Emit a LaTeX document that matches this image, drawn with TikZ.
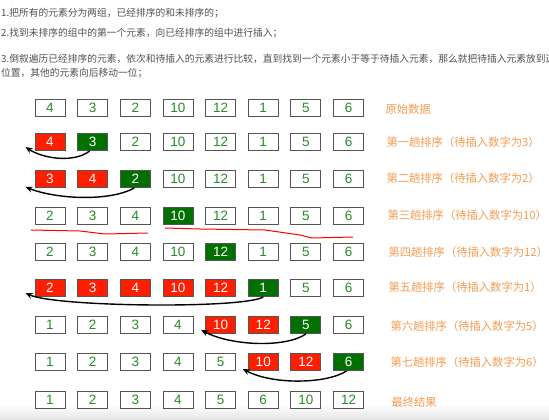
\documentclass[tikz,border=0pt]{standalone}
\usepackage{fontspec}
\setmainfont{Liberation Sans}
\newfontfamily\cjk{Noto Sans CJK SC}
\usepackage{tikz}
\usetikzlibrary{arrows.meta}
\definecolor{numgreen}{RGB}{40,140,40}
\definecolor{boxgreen}{RGB}{0,112,0}
\definecolor{boxred}{RGB}{255,30,0}
\definecolor{boxgray}{RGB}{85,85,85}
\definecolor{labelorange}{RGB}{245,155,80}
\definecolor{notegray}{RGB}{80,80,80}

\tikzset{
    cell/.style={draw=boxgray, line width=0.9pt, minimum width=30pt, minimum height=17pt, inner sep=0pt, font=\fontsize{13.5}{13.5}\selectfont},
    cellw/.style={cell, fill=white, text=numgreen},
    cellr/.style={cell, fill=boxred, text=white},
    cellg/.style={cell, fill=boxgreen, text=white},
    steplabel/.style={anchor=west, text=labelorange, font=\cjk\fontsize{11.3}{12}\selectfont},
    note/.style={anchor=west, text=notegray, inner sep=0pt, font=\cjk\fontsize{9.75}{11}\selectfont},
    movearrow/.style={-{Stealth[length=7pt,width=6pt]}, line width=1.4pt, black},
    scribble/.style={red, line width=1pt, line join=round}
}

\begin{document}
\begin{tikzpicture}[x=1pt, y=-1pt]
\useasboundingbox (0,0) rectangle (549,420);
\clip (0,0) rectangle (549,420);
% faint shade at the bottom edge
\shade[top color=white, bottom color=black!10] (0,404) rectangle (549,420);

% Notes on top
\node[note] (n1) at (1,13) {1.把所有的元素分为两组，已经排序的和未排序的；};
\node[note] (n2) at (1,33) {2.找到未排序的组中的第一个元素，向已经排序的组中进行插入；};
\node[note] (n3) at (1,59) {3.倒叙遍历已经排序的元素，依次和待插入的元素进行比较，直到找到一个元素小于等于待插入元素，那么就把待插入元素放到这};
\node[note] (n4) at (1,73) {位置，其他的元素向后移动一位；};

% Rows of boxes (w = white, r = red, g = green)
\foreach \row/\y/\cells in {
    0/108/{4/w,3/w,2/w,10/w,12/w,1/w,5/w,6/w},
    1/142/{4/r,3/g,2/w,10/w,12/w,1/w,5/w,6/w},
    2/179/{3/r,4/r,2/g,10/w,12/w,1/w,5/w,6/w},
    3/216/{2/w,3/w,4/w,10/g,12/w,1/w,5/w,6/w},
    4/252/{2/w,3/w,4/w,10/w,12/g,1/w,5/w,6/w},
    5/288/{2/r,3/r,4/r,10/r,12/r,1/g,5/w,6/w},
    6/325/{1/w,2/w,3/w,4/w,10/r,12/r,5/g,6/w},
    7/362/{1/w,2/w,3/w,4/w,5/w,10/r,12/r,6/g},
    8/400/{1/w,2/w,3/w,4/w,5/w,6/w,10/w,12/w}}{
    \foreach \v/\c [count=\i] in \cells
        \node[cell\c] (r\row-\i) at ({50+42.65*(\i-1)},\y) {\v};
}

% Labels on the right
\node[steplabel] (l0) at (382,109) {原始数据};
\node[steplabel] (l1) at (383,142) {第一趟排序（待插入数字为3）};
\node[steplabel] (l2) at (383,178) {第二趟排序（待插入数字为2）};
\node[steplabel] (l3) at (384,215) {第三趟排序（待插入数字为10）};
\node[steplabel] (l4) at (385,252) {第四趟排序（待插入数字为12）};
\node[steplabel] (l5) at (385,287) {第五趟排序（待插入数字为1）};
\node[steplabel] (l6) at (387,326) {第六趟排序（待插入数字为5）};
\node[steplabel] (l7) at (387,362) {第七趟排序（待插入数字为6）};
\node[steplabel] (l8) at (388,402) {最终结果};

% Moves (y axis points down)
\draw[movearrow] ([xshift=-3pt]r1-2.south) .. controls +(-15,12) and +(18,12) .. ([xshift=-9pt,yshift=-5pt]r1-1.west);
\draw[movearrow] ([xshift=-1pt]r2-3.south) .. controls +(-25,14) and +(30,12) .. ([xshift=-9pt,yshift=-8pt]r2-1.west);
\draw[movearrow] (r5-6.south) .. controls +(-20,12) and +(30,14) .. ([xshift=-9pt,yshift=-5pt]r5-1.west);
\draw[movearrow] (r6-7.south) .. controls +(-20,14) and +(30,16) .. ([xshift=-4pt,yshift=4pt]r6-5.south west);
\draw[movearrow] ([xshift=-2pt]r7-8.south) .. controls +(-20,13) and +(30,16) .. ([xshift=-5pt,yshift=2pt]r7-6.south west);

% hand-drawn red lines under the third step
\draw[scribble] (31,230) -- (80,231) -- (105,234) -- (148,233);
\draw[scribble] (165,228) -- (200,229) -- (265,230) -- (300,235) -- (312,238) -- (353,237);
\end{tikzpicture}
\end{document}
